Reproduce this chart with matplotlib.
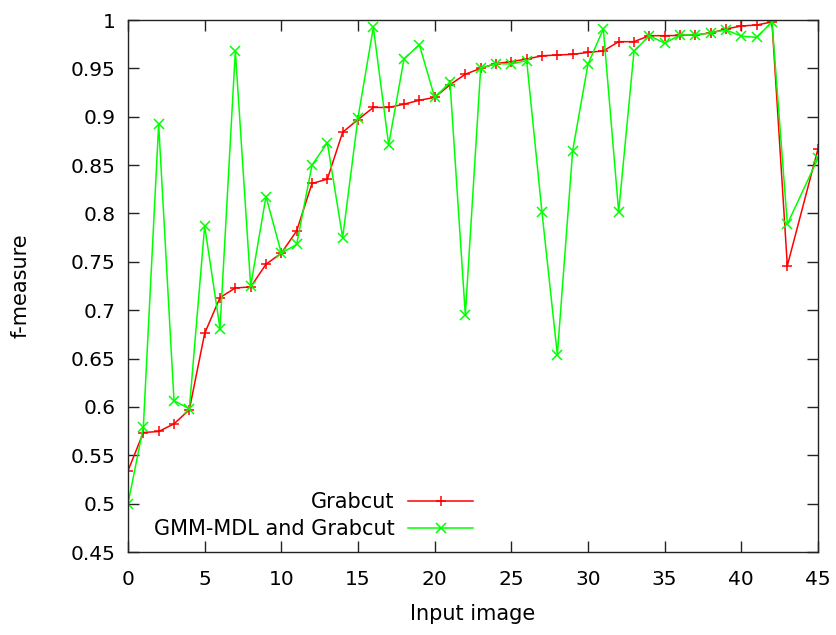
import matplotlib
matplotlib.use("Agg")
import matplotlib.pyplot as plt

x_index = list(range(0, 44)) + [45]

grabcut = [0.534, 0.5735, 0.5746, 0.5825, 0.597, 0.676, 0.713, 0.723, 0.724, 0.7475,
           0.759, 0.782, 0.831, 0.8355, 0.884, 0.897, 0.9096, 0.9096, 0.913, 0.917,
           0.920, 0.933, 0.944, 0.950, 0.955, 0.957, 0.9596, 0.9630, 0.9638, 0.9645,
           0.9665, 0.968, 0.9776, 0.9776, 0.9838, 0.9838, 0.984, 0.9845, 0.9866, 0.9907,
           0.9938, 0.9948, 0.998, 0.746, 0.8668]

gmm_mdl = [0.500, 0.579, 0.892, 0.6065, 0.598, 0.787, 0.681, 0.968, 0.725, 0.8175,
           0.759, 0.768, 0.850, 0.873, 0.775, 0.899, 0.9924, 0.871, 0.9597, 0.9745,
           0.920, 0.9355, 0.695, 0.950, 0.955, 0.9545, 0.958, 0.801, 0.654, 0.865,
           0.9545, 0.9907, 0.8017, 0.9676, 0.9838, 0.976, 0.9845, 0.9845, 0.9868, 0.9897,
           0.9834, 0.982, 0.998, 0.789, 0.857]

xticks = [0, 5, 10, 15, 20, 25, 30, 35, 40, 45]
yticks = [0.45, 0.5, 0.55, 0.6, 0.65, 0.7, 0.75, 0.8, 0.85, 0.9, 0.95, 1.0]
ytick_labels = ["0.45", "0.5", "0.55", "0.6", "0.65", "0.7", "0.75", "0.8",
                "0.85", "0.9", "0.95", "1"]

plt.rcParams['font.family'] = ['DejaVu Sans']
fs_tick = 14.5
fs = 15

fig = plt.figure(figsize=(8.37, 6.35), dpi=100)
ax = fig.add_axes([128 / 837, 1 - 552 / 635, 690 / 837, 532 / 635])

ax.plot(x_index, grabcut, color='#ff0000', lw=1.1, marker='+', ms=7.5, mew=1.1,
        label='Grabcut')
ax.plot(x_index, gmm_mdl, color='#00ff00', lw=1.1, marker='x', ms=6.5, mew=1.1,
        label='GMM-MDL and Grabcut')

ax.set_xlim(0, 45)
ax.set_ylim(0.45, 1.0)
ax.set_xticks(xticks)
ax.set_yticks(yticks)
ax.set_yticklabels(ytick_labels)
ax.tick_params(direction='in', length=8, width=1, top=True, right=True,
               labelsize=fs_tick, colors='#222222', labelcolor='black')
ax.tick_params(axis='y', pad=9)
ax.tick_params(axis='x', pad=13)
for s in ax.spines.values():
    s.set_linewidth(1.0)
    s.set_color('#222222')

ax.set_xlabel('Input image', fontsize=fs, labelpad=11)
ax.set_ylabel('f-measure', fontsize=fs, labelpad=29)

leg = ax.legend(loc='center right', bbox_to_anchor=(0.5, 0.068), frameon=False,
                markerfirst=False, fontsize=fs, handlelength=3.1, handletextpad=0.65,
                labelspacing=0.33, borderpad=0, borderaxespad=0)

fig.savefig('out.png', dpi=100)
